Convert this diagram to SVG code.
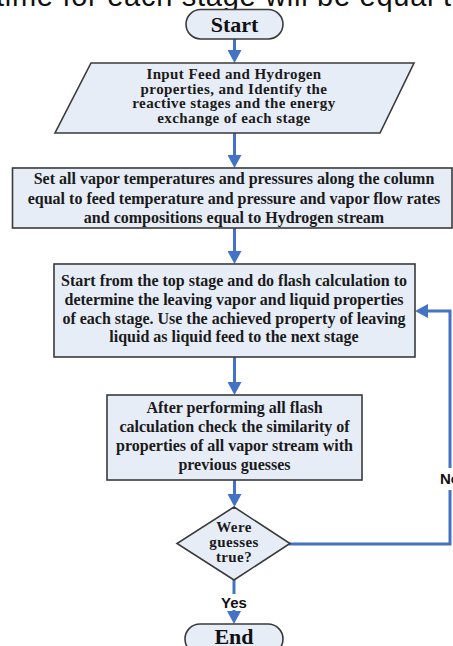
<svg xmlns="http://www.w3.org/2000/svg" width="453" height="646" viewBox="0 0 453 646">
<defs>
<style>
.shape{fill:#E7EDF7;stroke:#3a3a3a;stroke-width:1.6}
.t{font-family:"Liberation Serif","Times New Roman",serif;font-weight:bold;font-size:16px;fill:#1a1a1a;text-anchor:middle}
.ts{font-family:"Liberation Serif","Times New Roman",serif;font-weight:bold;font-size:15px;letter-spacing:0.4px;fill:#1a1a1a;text-anchor:middle}
.term{font-family:"Liberation Serif","Times New Roman",serif;font-weight:bold;font-size:22px;fill:#111;text-anchor:middle}
.lbl{font-family:"Liberation Sans",Arial,sans-serif;font-weight:bold;font-size:15px;fill:#111;text-anchor:middle}
.conn{fill:none;stroke:#4472C4;stroke-width:3;marker-end:url(#ah)}
</style>
<marker id="ah" viewBox="0 0 13 14" refX="2" refY="7" markerWidth="13" markerHeight="14" markerUnits="userSpaceOnUse" orient="auto">
<path d="M0,0 L13,7 L0,14 z" fill="#4472C4"/>
</marker>
</defs>
<rect width="453" height="646" fill="#ffffff"/>
<text x="-4" y="6" font-family="Liberation Sans,Arial,sans-serif" font-size="29" fill="#111" textLength="455" lengthAdjust="spacing">time for each stage will be equal t</text>

<g id="connectors">
<path class="conn" d="M234.5,39 V52"/>
<path class="conn" d="M234.5,133 V157"/>
<path class="conn" d="M234.5,228 V253"/>
<path class="conn" d="M234.5,357 V384"/>
<path class="conn" d="M234.5,480 V496"/>
<path class="conn" d="M234,580 V613"/>
<path class="conn" d="M289,544 H450 V311 H426"/>
<rect x="218" y="594" width="32" height="16" fill="#ffffff"/>
<text class="lbl" x="234" y="608">Yes</text>
<rect x="438" y="468" width="24" height="22" fill="#ffffff"/>
<text class="lbl" x="450" y="484">No</text>
</g>

<g id="start">
<rect class="shape" x="186" y="9.5" width="97" height="29.5" rx="14.75"/>
<text class="term" x="234.5" y="32">Start</text>
</g>

<g id="input">
<polygon class="shape" points="91,63 414,63 380,133 55,133"/>
<text class="ts" x="234" y="79">Input Feed and Hydrogen</text>
<text class="ts" x="234" y="93.5">properties, and Identify the</text>
<text class="ts" x="234" y="108">reactive stages and the energy</text>
<text class="ts" x="234" y="122.5">exchange of each stage</text>
</g>

<g id="init">
<rect class="shape" x="12.5" y="168" width="439.5" height="60"/>
<text class="t" x="234" y="184">Set all vapor temperatures and pressures along the column</text>
<text class="t" x="234" y="203.5">equal to feed temperature and pressure and vapor flow rates</text>
<text class="t" x="234" y="223">and compositions equal to Hydrogen stream</text>
</g>

<g id="flash">
<rect class="shape" x="54" y="264" width="361" height="93"/>
<text class="t" x="234" y="286">Start from the top stage and do flash calculation to</text>
<text class="t" x="234" y="305">determine the leaving vapor and liquid properties</text>
<text class="t" x="234" y="323.5">of each stage. Use the achieved property of leaving</text>
<text class="t" x="234" y="342">liquid as liquid feed to the next stage</text>
</g>

<g id="check">
<rect class="shape" x="107" y="395" width="255" height="85"/>
<text class="t" x="234.5" y="413">After performing all flash</text>
<text class="t" x="234.5" y="432">calculation check the similarity of</text>
<text class="t" x="234.5" y="451">properties of all vapor stream with</text>
<text class="t" x="234.5" y="470">previous guesses</text>
</g>

<g id="decision">
<polygon class="shape" points="234,507 290,543.5 234,580 177,543.5"/>
<text class="ts" x="234" y="532">Were</text>
<text class="ts" x="234" y="547">guesses</text>
<text class="ts" x="234" y="562">true?</text>
</g>

<g id="end">
<rect class="shape" x="185" y="624" width="98" height="30" rx="15"/>
<text class="term" x="234" y="644">End</text>
</g>
</svg>
